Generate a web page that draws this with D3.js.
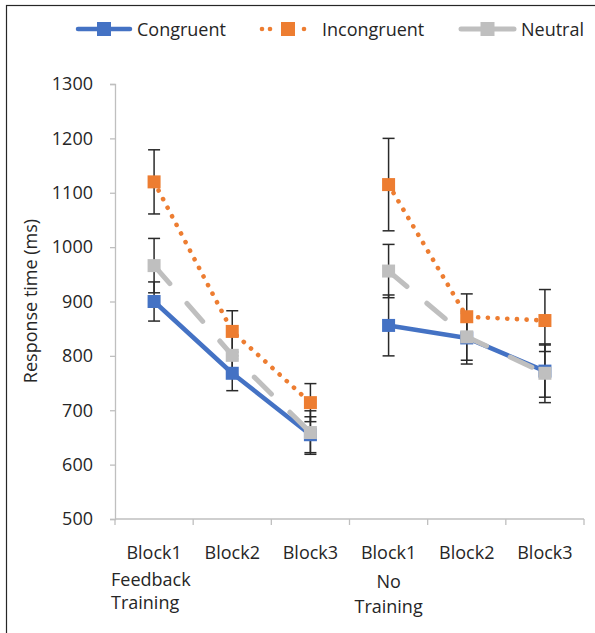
<!DOCTYPE html>
<html>
<head>
<meta charset="utf-8">
<script src="https://cdn.jsdelivr.net/npm/d3@7"></script>
<style>
  html, body { margin: 0; padding: 0; background: #fff; }
  svg { display: block; font-family: "Open Sans", "Noto Sans", sans-serif; }
</style>
</head>
<body>
<svg id="chart" width="595" height="633"></svg>
<script>
// Conditions along the x axis: three blocks in each training group
const categories = ["FB-Block1", "FB-Block2", "FB-Block3", "NT-Block1", "NT-Block2", "NT-Block3"];
const blockLabels = ["Block1", "Block2", "Block3", "Block1", "Block2", "Block3"];
const groups = [
  { name: ["Feedback", "Training"], first: 0, align: "start" },
  { name: ["No", "Training"], first: 3, align: "middle" }
];

// Mean response times (ms) and error bar half-widths
const congruent = [900, 768, 655, 856, 833, 772];
const congruentErr = [36, 32, 33, 56, 48, 48];
const incongruent = [1120, 845, 714, 1115, 872, 865];
const incongruentErr = [59, 38, 35, 85, 42, 57];
const neutral = [966, 801, 659, 956, 835, 768];
const neutralErr = [50, 35, 40, 49, 43, 54];

const yTicks = [500, 600, 700, 800, 900, 1000, 1100, 1200, 1300];

const series = [
  { name: "Congruent", values: congruent, err: congruentErr, color: "#4472C4", dash: null, width: 4.5 },
  { name: "Incongruent", values: incongruent, err: incongruentErr, color: "#ED7D31", dash: "0.1 9.6", width: 4.6 },
  { name: "Neutral", values: neutral, err: neutralErr, color: "#BFBFBF", dash: "24 26", width: 5 }
];

const FONT = 18;
const svg = d3.select("#chart");

// outer frame
svg.append("rect")
  .attr("x", 6.5).attr("y", 5.5)
  .attr("width", 640).attr("height", 660)
  .attr("fill", "none").attr("stroke", "#262626").attr("stroke-width", 1.2);

const x = d3.scaleBand().domain(categories).range([115, 584]).padding(0);
const y = d3.scaleLinear().domain([500, 1300]).range([519, 84]);
const cx = c => x(c) + x.bandwidth() / 2;

const axisColor = "#BFBFBF";

// y axis
const yAxis = svg.append("g")
  .attr("transform", "translate(115,0)")
  .call(d3.axisLeft(y).tickValues(yTicks).tickSize(5).tickPadding(17).tickFormat(d3.format("d")));
yAxis.select(".domain").attr("stroke", axisColor).attr("stroke-width", 1.3);
yAxis.selectAll(".tick line").attr("stroke", axisColor).attr("stroke-width", 1.3);
yAxis.selectAll(".tick text")
  .attr("font-size", FONT).attr("fill", "#262626")
  .attr("font-family", "'Open Sans', sans-serif");

// x axis with ticks at band boundaries
const xAxisG = svg.append("g").attr("transform", "translate(0,519)");
xAxisG.append("line")
  .attr("x1", 115).attr("x2", 584).attr("y1", 0).attr("y2", 0)
  .attr("stroke", axisColor).attr("stroke-width", 1.3);
const bounds = categories.map(c => x(c)).concat([x.range()[1]]);
xAxisG.selectAll("line.tk").data(bounds).join("line")
  .attr("class", "tk")
  .attr("x1", d => d).attr("x2", d => d).attr("y1", 0).attr("y2", 6)
  .attr("stroke", axisColor).attr("stroke-width", 1.3);

// block labels
svg.append("g").selectAll("text").data(categories).join("text")
  .attr("x", cx).attr("y", 559)
  .attr("text-anchor", "middle")
  .attr("font-size", FONT).attr("fill", "#262626")
  .text((d, i) => blockLabels[i]);

// group labels
groups.forEach(g => {
  const t = svg.append("text")
    .attr("font-size", FONT).attr("fill", "#262626")
    .attr("text-anchor", g.align);
  const gx = g.align === "start" ? x(categories[g.first]) - 4 : cx(categories[g.first]);
  const dy = g.align === "start" ? [586, 609] : [588, 613];
  g.name.forEach((s, k) => {
    t.append("tspan").attr("x", gx).attr("y", dy[k]).text(s);
  });
});

// y axis title
svg.append("text")
  .attr("transform", "translate(36.5,301) rotate(-90)")
  .attr("text-anchor", "middle")
  .attr("font-size", FONT).attr("fill", "#262626")
  .text("Response time (ms)");

// error bars
const eb = svg.append("g");
series.forEach(s => {
  s.values.forEach((v, i) => {
    const px = cx(categories[i]);
    const g = eb.append("g").attr("stroke", "#2a2a2a").attr("stroke-width", 1.5);
    g.append("line").attr("x1", px).attr("x2", px).attr("y1", y(v + s.err[i])).attr("y2", y(v - s.err[i]));
    [v + s.err[i], v - s.err[i]].forEach(e => {
      g.append("line").attr("x1", px - 6).attr("x2", px + 6).attr("y1", y(e)).attr("y2", y(e));
    });
  });
});

// lines and markers; each training group is drawn as its own segment
const line = d3.line().x(d => cx(d.c)).y(d => y(d.v));
series.forEach(s => {
  const pts = s.values.map((v, i) => ({ c: categories[i], v }));
  [pts.slice(0, 3), pts.slice(3, 6)].forEach(seg => {
    svg.append("path")
      .attr("d", line(seg))
      .attr("fill", "none")
      .attr("stroke", s.color)
      .attr("stroke-width", s.width)
      .attr("stroke-linecap", "round")
      .attr("stroke-linejoin", "round")
      .attr("stroke-dasharray", s.dash);
  });
  svg.append("g").selectAll("rect").data(pts).join("rect")
    .attr("x", d => cx(d.c) - 6.5).attr("y", d => y(d.v) - 6.5)
    .attr("width", 13).attr("height", 13)
    .attr("fill", s.color);
});

// legend
const legendItems = [
  { s: series[0], x0: 78, x1: 130, tx: 137 },
  { s: series[1], x0: 262, x1: 304, tx: 322 },
  { s: series[2], x0: 461, x1: 514, tx: 521 }
];
const lg = svg.append("g");
legendItems.forEach(it => {
  const ly = 29;
  if (it.s.name === "Incongruent") {
    [262, 270, 304].forEach(dx => {
      lg.append("circle").attr("cx", dx).attr("cy", ly).attr("r", 2.3).attr("fill", it.s.color);
    });
  } else {
    lg.append("line")
      .attr("x1", it.x0).attr("x2", it.x1).attr("y1", ly).attr("y2", ly)
      .attr("stroke", it.s.color).attr("stroke-width", it.s.width)
      .attr("stroke-linecap", "round");
  }
  const mx = (it.x0 + it.x1) / 2 + (it.s.name === "Incongruent" ? 5 : 0);
  lg.append("rect").attr("x", mx - 7).attr("y", ly - 7).attr("width", 14).attr("height", 14).attr("fill", it.s.color);
  lg.append("text").attr("x", it.tx).attr("y", ly + 6.5)
    .attr("font-size", FONT).attr("fill", "#262626").text(it.s.name);
});
</script>
</body>
</html>
